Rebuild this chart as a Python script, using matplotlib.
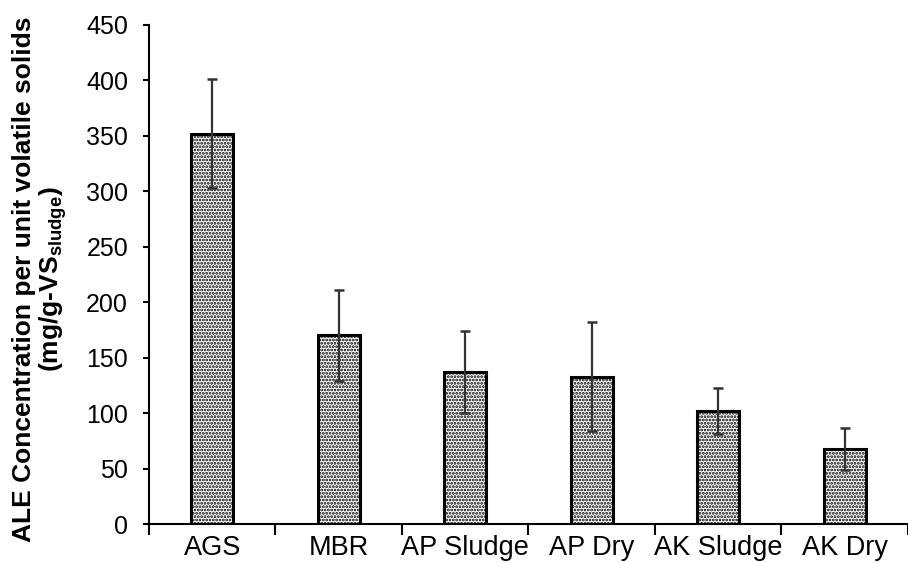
import matplotlib
matplotlib.use("Agg")
import matplotlib.pyplot as plt
import numpy as np

categories = ["AGS", "MBR", "AP Sludge", "AP Dry", "AK Sludge", "AK Dry"]
values = [352, 170, 137, 133, 102, 68]
errors = [49, 41, 37, 49, 21, 19]
yticks = [0, 50, 100, 150, 200, 250, 300, 350, 400, 450]

plt.rcParams['font.family'] = ['Liberation Sans', 'DejaVu Sans']
plt.rcParams['hatch.linewidth'] = 1.35
plt.rcParams['hatch.color'] = 'black'

fig = plt.figure(figsize=(9.08, 5.63), dpi=100)
ax = fig.add_axes([0.164, 0.069, 0.836, 0.887])

x = np.arange(len(categories))
ax.bar(x, values, width=0.33, color='white', edgecolor='black', linewidth=2.2,
       hatch='.....', zorder=2)
ax.errorbar(x, values, yerr=errors, fmt='none', ecolor='#333333', elinewidth=1.6,
            capsize=3.5, capthick=1.8, zorder=3)

ax.set_ylim(0, 450)
ax.set_xlim(-0.5, 5.43)
ax.set_yticks(yticks)
ax.set_yticklabels([str(t) for t in yticks], fontsize=18)

ax.set_xticks(np.arange(-0.5, 6, 1.0))
ax.set_xticklabels([])
ax.set_xticks(x, minor=True)
ax.set_xticklabels(categories, minor=True, fontsize=19.5)
ax.tick_params(axis='x', which='major', direction='out', length=8, width=1.5)
ax.tick_params(axis='x', which='minor', length=0, pad=8)
ax.tick_params(axis='y', direction='out', length=4, width=1.5, pad=11)

for s in ['top', 'right']:
    ax.spines[s].set_visible(False)
for s in ['left', 'bottom']:
    ax.spines[s].set_linewidth(1.5)

ax.set_ylabel("ALE Concentration per unit volatile solids\n(mg/g-VS$_{\\mathregular{sludge}}$)",
              fontsize=19, fontweight='bold', labelpad=3, linespacing=1.05)
ax.yaxis.set_label_coords(-0.105, 0.49)

fig.savefig("out.png", dpi=100)
